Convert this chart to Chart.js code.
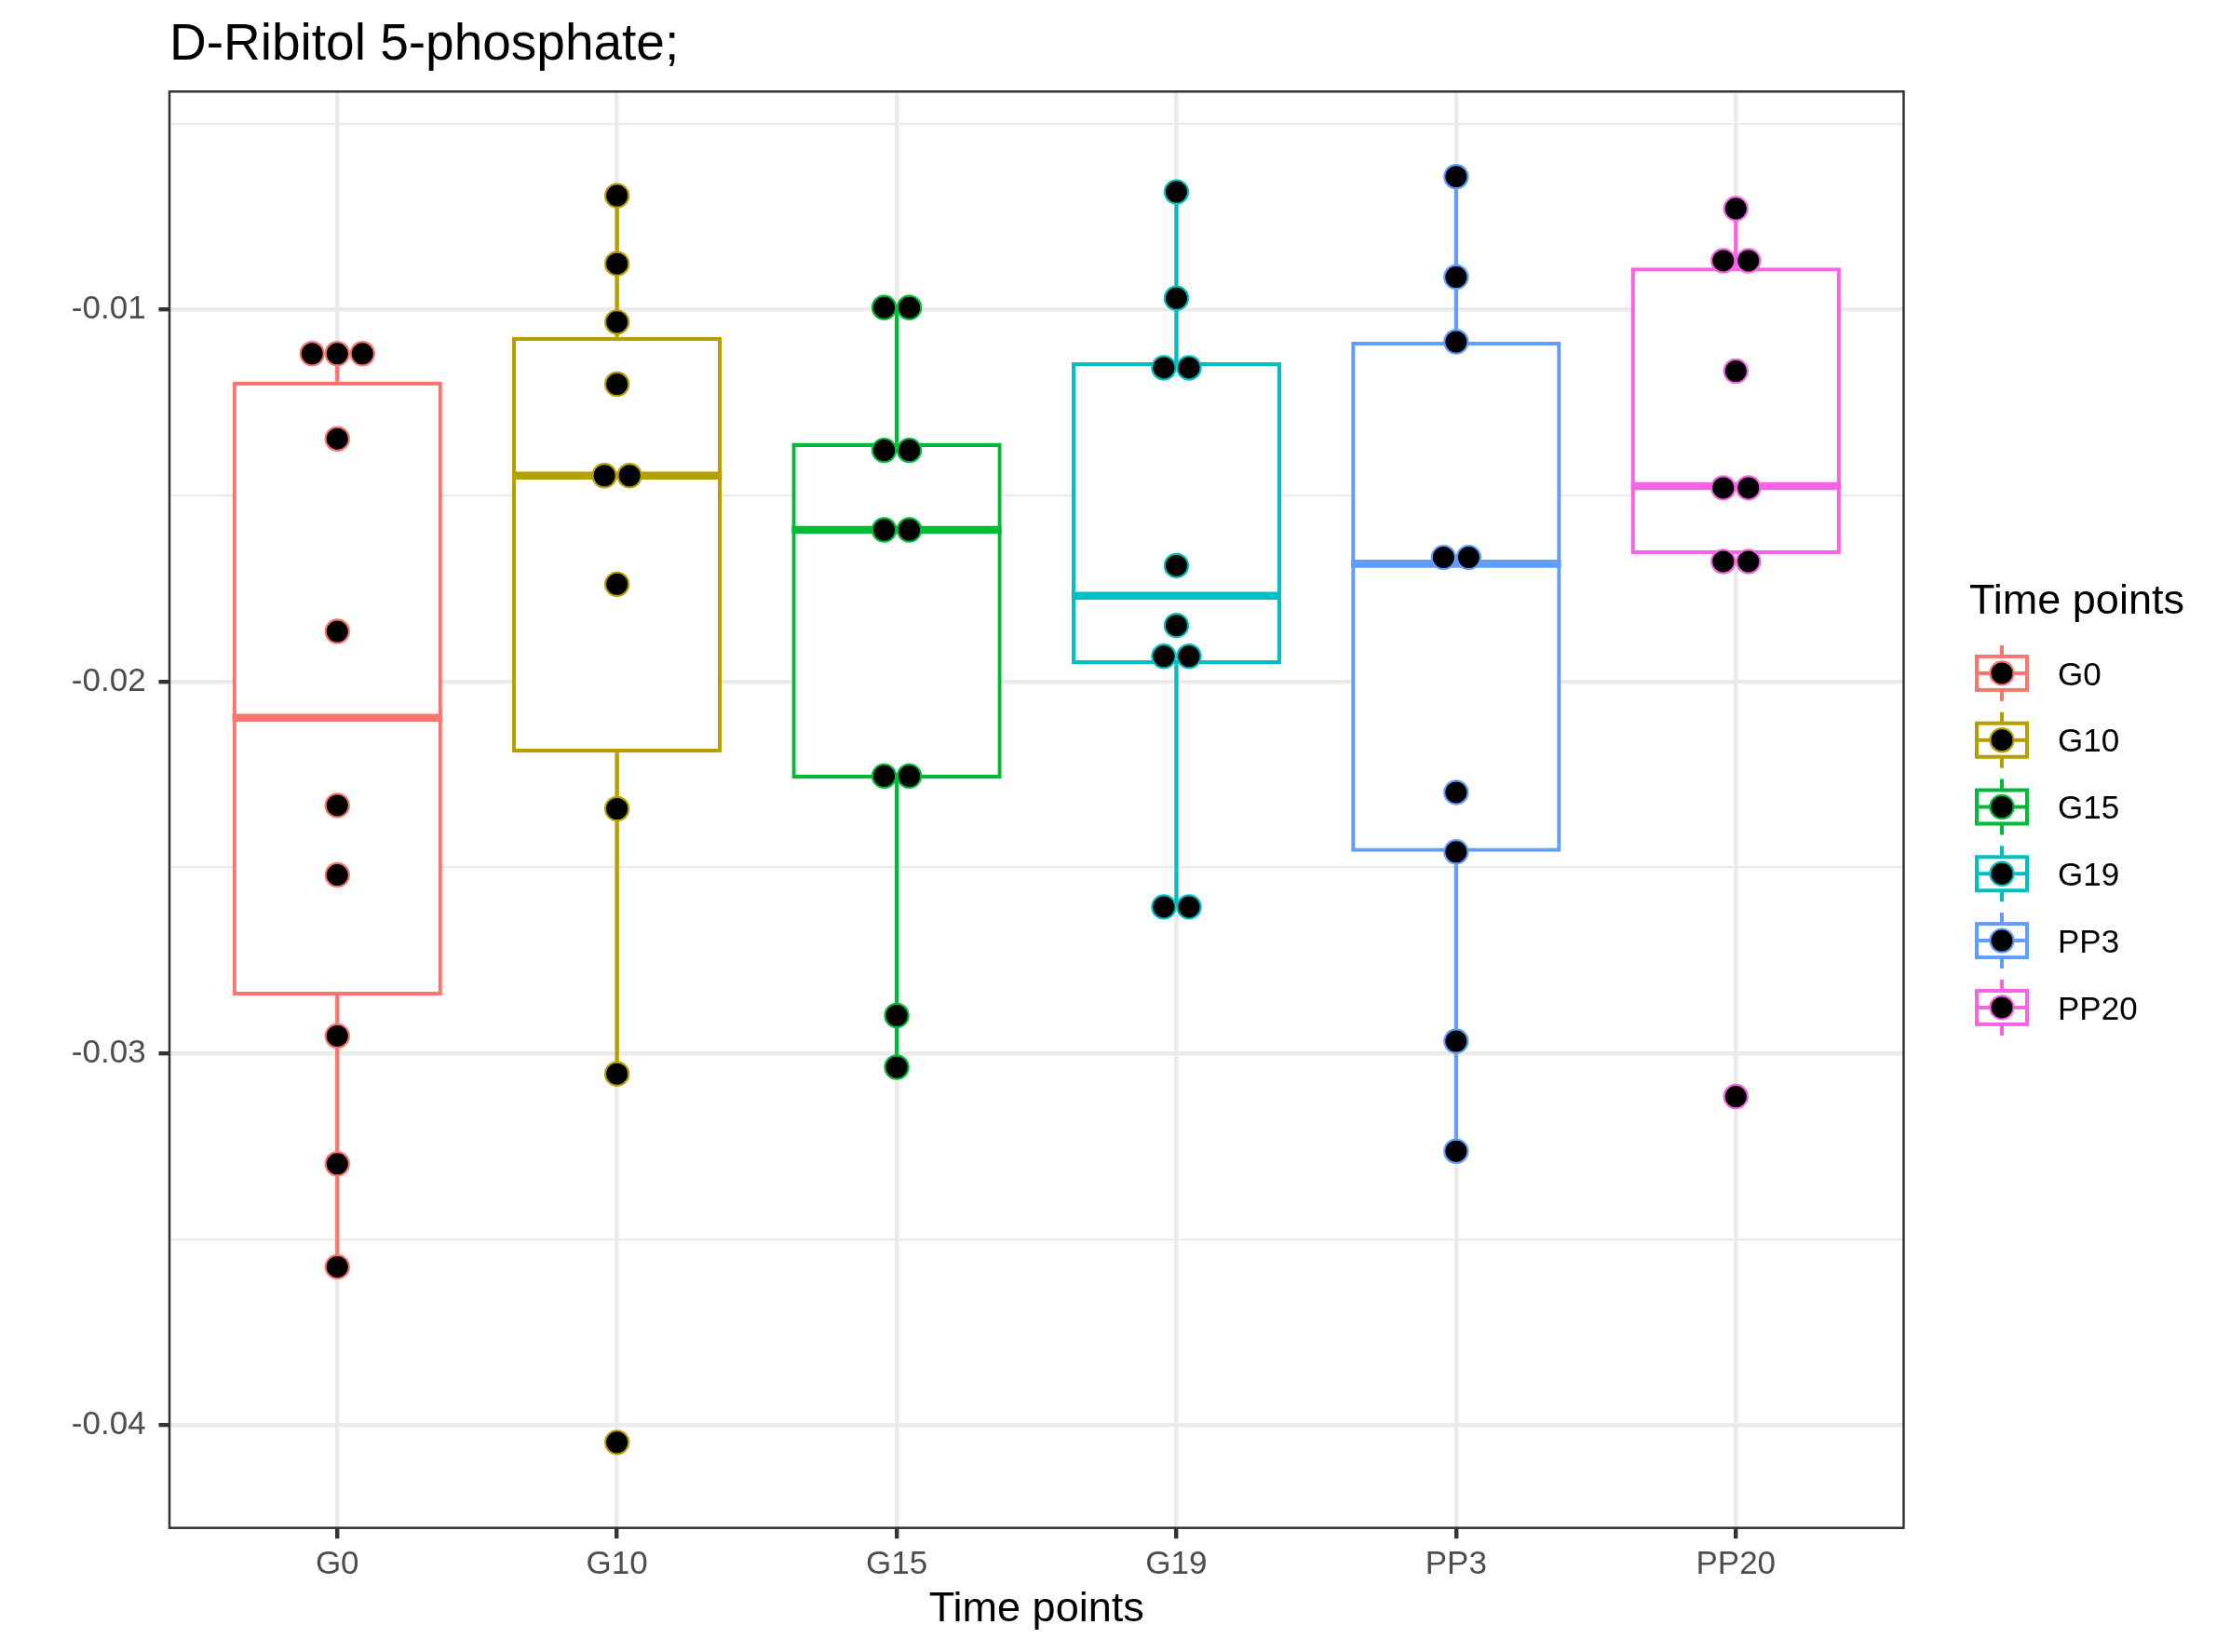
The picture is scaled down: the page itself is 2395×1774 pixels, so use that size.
<!DOCTYPE html>
<html>
  <head>
    <meta charset="utf-8" />
    <title>D-Ribitol 5-phosphate;</title>
    <style>
      html, body { margin: 0; padding: 0; background: #ffffff; }
      #wrap { width: 2395px; height: 1774px; }
    </style>
  </head>
  <body>
    <div id="wrap"><canvas id="boxChart" width="2395" height="1774"></canvas></div>

    <script src="https://cdn.jsdelivr.net/npm/chart.js"></script>
    <script>
      // groups on the x axis
      var categories = ["G0", "G10", "G15", "G19", "PP3", "PP20"];

      // dots of each group
      var G0 = [-0.01118, -0.01118, -0.01118, -0.01347, -0.01865, -0.02333, -0.0252, -0.02953, -0.03297, -0.03574];
      var G10 = [-0.00693, -0.00876, -0.01033, -0.012, -0.01446, -0.01446, -0.01738, -0.02342, -0.03055, -0.04046];
      var G15 = [-0.00994, -0.00994, -0.01378, -0.01378, -0.01592, -0.01592, -0.02254, -0.02254, -0.02898, -0.03037];
      var G19 = [-0.00683, -0.00969, -0.01156, -0.01156, -0.01688, -0.01849, -0.01932, -0.01932, -0.02606, -0.02606];
      var PP3 = [-0.00642, -0.00912, -0.01086, -0.01666, -0.01666, -0.02298, -0.02458, -0.02967, -0.03263];
      var PP20 = [-0.00728, -0.00868, -0.00868, -0.01165, -0.01479, -0.01479, -0.01677, -0.01677, -0.03116];

      // box statistics, same order as categories
      var whiskerLow = [-0.03574, -0.03055, -0.03037, -0.02606, -0.03263, -0.01657];
      var q1 = [-0.02844, -0.02191, -0.02261, -0.01953, -0.02458, -0.01657];
      var median = [-0.02097, -0.01446, -0.01592, -0.01769, -0.01683, -0.01474];
      var q3 = [-0.01193, -0.01073, -0.01358, -0.01141, -0.01086, -0.00886];
      var whiskerHigh = [-0.01118, -0.00693, -0.00994, -0.00683, -0.00642, -0.00728];

      // y axis ticks
      var yMajorTicks = [-0.04, -0.03, -0.02, -0.01];
      var yMinorTicks = [-0.035, -0.025, -0.015, -0.005];

      var groups = [G0, G10, G15, G19, PP3, PP20];
      var colors = ["#F8766D", "#B79F00", "#00BA38", "#00BFC4", "#619CFF", "#F564E3"];
      var boxWidth = 0.75;  // in category units
      var dotStep = 0.09;   // sideways step between dots of one bin
      var fontFamily = '"Liberation Sans", Arial, sans-serif';

      Chart.defaults.font.family = fontFamily;

      // dots with the same value sit side by side, centred on the group
      function spread(values, i) {
        var count = {};
        var placed = {};
        values.forEach(function (v) { count[v] = (count[v] || 0) + 1; });
        return values.map(function (v) {
          var k = placed[v] || 0;
          placed[v] = k + 1;
          return { x: i + (k - (count[v] - 1) / 2) * dotStep, y: v };
        });
      }

      var datasets = [];

      // dots on top
      groups.forEach(function (vals, i) {
        datasets.push({
          type: "scatter",
          label: categories[i],
          data: spread(vals, i),
          pointRadius: 12.6,
          pointHoverRadius: 12.6,
          pointBorderWidth: 2.2,
          pointBackgroundColor: "#000000",
          pointBorderColor: colors[i],
          order: 0,
        });
      });

      // whiskers and medians
      categories.forEach(function (c, i) {
        datasets.push({
          type: "line",
          label: c + " whiskers",
          data: [
            { x: i, y: q3[i] },
            { x: i, y: whiskerHigh[i] },
            { x: i, y: null },
            { x: i, y: q1[i] },
            { x: i, y: whiskerLow[i] },
          ],
          borderColor: colors[i],
          borderWidth: 4.3,
          pointRadius: 0,
          spanGaps: false,
          order: 1,
        });
        datasets.push({
          type: "line",
          label: c + " median",
          data: [
            { x: i - boxWidth / 2, y: median[i] },
            { x: i + boxWidth / 2, y: median[i] },
          ],
          borderColor: colors[i],
          borderWidth: 8.6,
          pointRadius: 0,
          order: 1,
        });
      });

      // boxes underneath
      datasets.push({
        type: "bar",
        label: "boxes",
        data: categories.map(function (c, i) { return { x: i, y: [q1[i], q3[i]] }; }),
        backgroundColor: "#ffffff",
        borderColor: colors,
        borderWidth: 4.3,
        borderSkipped: false,
        barPercentage: boxWidth,
        categoryPercentage: 1,
        grouped: false,
        order: 2,
      });

      function isMajor(v) {
        return yMajorTicks.indexOf(v) !== -1;
      }

      // ggplot style frame round the panel
      var panelBorder = {
        id: "panelBorder",
        afterDraw: function (chart) {
          var a = chart.chartArea;
          var ctx = chart.ctx;
          ctx.save();
          ctx.strokeStyle = "#333333";
          ctx.lineWidth = 2.5;
          ctx.strokeRect(a.left, a.top, a.right - a.left, a.bottom - a.top);
          ctx.restore();
        },
      };

      // legend with box keys, right of the panel
      var boxLegend = {
        id: "boxLegend",
        afterDraw: function (chart) {
          var a = chart.chartArea;
          var ctx = chart.ctx;
          var midY = (a.top + a.bottom) / 2;
          ctx.save();
          ctx.fillStyle = "#000000";
          ctx.textBaseline = "alphabetic";
          ctx.font = "45px " + fontFamily;
          ctx.fillText("Time points", a.right + 70.5, midY - 210.9);
          ctx.font = "35px " + fontFamily;
          categories.forEach(function (c, i) {
            var cx = a.right + 105.5;
            var cy = midY - 146.6 + i * 71.8;
            ctx.strokeStyle = colors[i];
            ctx.lineWidth = 4;
            ctx.beginPath();
            ctx.moveTo(cx, cy - 30);
            ctx.lineTo(cx, cy + 30);
            ctx.stroke();
            ctx.fillStyle = "#ffffff";
            ctx.fillRect(cx - 27, cy - 18, 54, 36);
            ctx.strokeRect(cx - 27, cy - 18, 54, 36);
            ctx.beginPath();
            ctx.moveTo(cx - 27, cy);
            ctx.lineTo(cx + 27, cy);
            ctx.stroke();
            ctx.beginPath();
            ctx.arc(cx, cy, 12.6, 0, Math.PI * 2);
            ctx.fillStyle = "#000000";
            ctx.fill();
            ctx.lineWidth = 2.2;
            ctx.stroke();
            ctx.fillStyle = "#000000";
            ctx.fillText(c, a.right + 165.5, cy + 12.7);
          });
          ctx.restore();
        },
      };

      var ctx = document.getElementById("boxChart").getContext("2d");
      var chart = new Chart(ctx, {
        type: "scatter",
        data: { datasets: datasets },
        plugins: [panelBorder, boxLegend],
        options: {
          responsive: false,
          devicePixelRatio: 1,
          animation: false,
          events: [],
          layout: { padding: { left: 0, right: 350.5, top: 0, bottom: 0 } },
          plugins: {
            legend: { display: false },
            tooltip: { enabled: false },
            title: {
              display: true,
              text: "D-Ribitol 5-phosphate;",
              align: "start",
              fullSize: false,
              color: "#000000",
              font: { size: 55, weight: "normal", lineHeight: 1.2 },
              padding: { top: 15.5, bottom: 16.8 },
            },
          },
          scales: {
            x: {
              type: "linear",
              min: -0.6,
              max: 5.6,
              offset: false,
              afterBuildTicks: function (axis) {
                axis.ticks = categories.map(function (c, i) { return { value: i }; });
              },
              afterFit: function (axis) { axis.height = 133.3; },
              ticks: {
                autoSkip: false,
                maxRotation: 0,
                padding: 7.5,
                color: "#4D4D4D",
                font: { size: 35 },
                callback: function (value) { return categories[value]; },
              },
              grid: {
                offset: false,
                color: "#EBEBEB",
                lineWidth: 4.4,
                drawTicks: true,
                tickLength: 11.5,
                tickWidth: 4.4,
                tickColor: "#333333",
              },
              border: { display: false },
              title: {
                display: true,
                text: "Time points",
                color: "#000000",
                font: { size: 45, lineHeight: 1.2 },
                padding: { top: 0, bottom: 18.5 },
              },
            },
            y: {
              type: "linear",
              min: -0.04276,
              max: -0.00413,
              beginAtZero: false,
              afterBuildTicks: function (axis) {
                axis.ticks = yMajorTicks.concat(yMinorTicks)
                  .sort(function (a, b) { return a - b; })
                  .map(function (v) { return { value: v }; });
              },
              afterFit: function (axis) { axis.width = 182; },
              ticks: {
                autoSkip: false,
                padding: 13.9,
                color: "#4D4D4D",
                font: { size: 35 },
                callback: function (value) { return isMajor(value) ? value.toFixed(2) : ""; },
              },
              grid: {
                color: "#EBEBEB",
                lineWidth: function (c) { return c.tick && isMajor(c.tick.value) ? 4.4 : 2.2; },
                tickLength: 11.5,
                tickWidth: 4.4,
                tickColor: function (c) { return c.tick && isMajor(c.tick.value) ? "#333333" : "rgba(0,0,0,0)"; },
              },
              border: { display: false },
            },
          },
        },
      });
    </script>
  </body>
</html>
